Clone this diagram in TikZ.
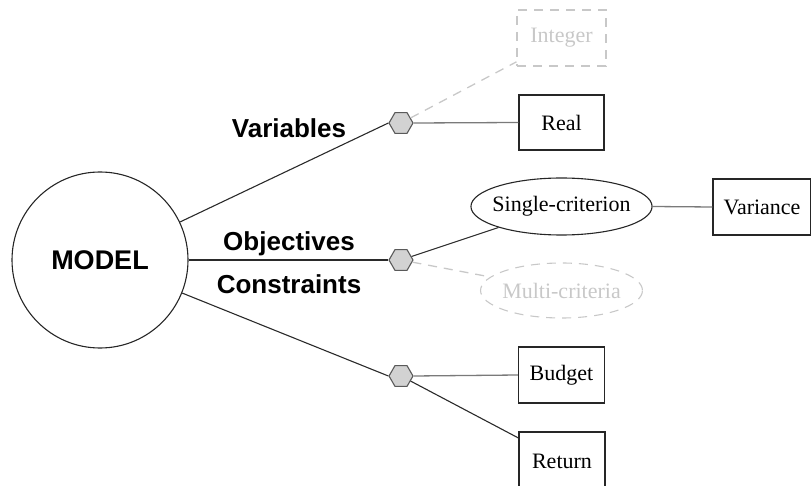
\documentclass[tikz,border=0pt]{standalone}
\usepackage{fontspec}
\setmainfont{Liberation Serif}
\newfontfamily\labelfont{Liberation Sans}
\usetikzlibrary{shapes.geometric}

\definecolor{ghost}{HTML}{C8C8C8}
\definecolor{hexfill}{HTML}{D2D2D2}
\definecolor{hexdraw}{HTML}{5A5A5A}
\definecolor{linkgray}{HTML}{7A7A7A}
\definecolor{trunk}{HTML}{2A2A2A}

\tikzset{
  leafbox/.style={draw=black!85, line width=1.1pt, rectangle, inner sep=0pt,
    font=\fontsize{22}{26}\selectfont},
  ovalbox/.style={draw=black!85, line width=1.1pt, ellipse, inner ysep=0pt,
    font=\fontsize{22}{26}\selectfont},
  ghostbox/.style={draw=ghost, text=ghost, dash pattern=on 9pt off 7pt},
  hub/.style={regular polygon, regular polygon sides=6, minimum size=24pt,
    inner sep=0pt, fill=hexfill, draw=hexdraw, line width=1.1pt},
  trunkline/.style={draw=trunk, line width=1.1pt},
  branch/.style={draw=linkgray, line width=1.3pt},
  ghostline/.style={draw=ghost, line width=1.3pt, dash pattern=on 9pt off 7pt},
  arm/.style={font=\labelfont\bfseries\fontsize{26}{30}\selectfont, anchor=base, inner sep=0pt}
}

\begin{document}
\begin{tikzpicture}[x=1pt, y=-1pt]
  \useasboundingbox (0,0) rectangle (811,486);

  % central model node
  \node[circle, draw=black!85, line width=1.1pt, minimum size=176pt, inner sep=0pt,
        font=\labelfont\bfseries\fontsize{27}{31}\selectfont] (model) at (100,260) {MODEL};

  % branching hubs
  \node[hub] (hv) at (401,123) {};
  \node[hub] (ho) at (401,260) {};
  \node[hub] (hc) at (401,376) {};

  % leaves
  \node[leafbox, ghostbox, minimum width=89pt, minimum height=56pt] (integer) at (561.5,38) {Integer};
  \node[leafbox, minimum width=85pt, minimum height=55pt] (real) at (561.5,122.5) {Real};
  \node[ovalbox, inner xsep=-5pt, minimum width=179pt, minimum height=57pt] (single) at (561.5,206.5) {Single-criterion};
  \node[ovalbox, ghostbox, inner xsep=-2pt, minimum width=161pt, minimum height=55pt] (multi) at (561.5,290.5) {Multi-criteria};
  \node[leafbox, minimum width=98pt, minimum height=56pt] (variance) at (762,207) {Variance};
  \node[leafbox, minimum width=86pt, minimum height=56pt] (budget) at (561.5,375) {Budget};
  \node[leafbox, minimum width=86pt, minimum height=58pt] (return) at (562,461) {Return};

  % trunks from the model
  \draw[trunkline] (model) -- (hv.west);
  \draw[trunkline] (model) -- (ho.west);
  \draw[trunkline] (model) -- (hc.west);

  % branches to the leaves
  \draw[ghostline] (hv) -- (integer);
  \draw[branch] (hv.east) -- (real.west);
  \draw[trunkline] (ho) -- (single);
  \draw[ghostline] (ho) -- (multi);
  \draw[branch] (single.east) -- (variance.west);
  \draw[branch] (hc.east) -- (budget.west);
  \draw[trunkline] (hc) -- (return);

  % arm labels
  \node[arm] (lvar) at (289,138) {Variables};
  \node[arm] (lobj) at (289,251) {Objectives};
  \node[arm] (lcon) at (289,294) {Constraints};
\end{tikzpicture}
\end{document}
